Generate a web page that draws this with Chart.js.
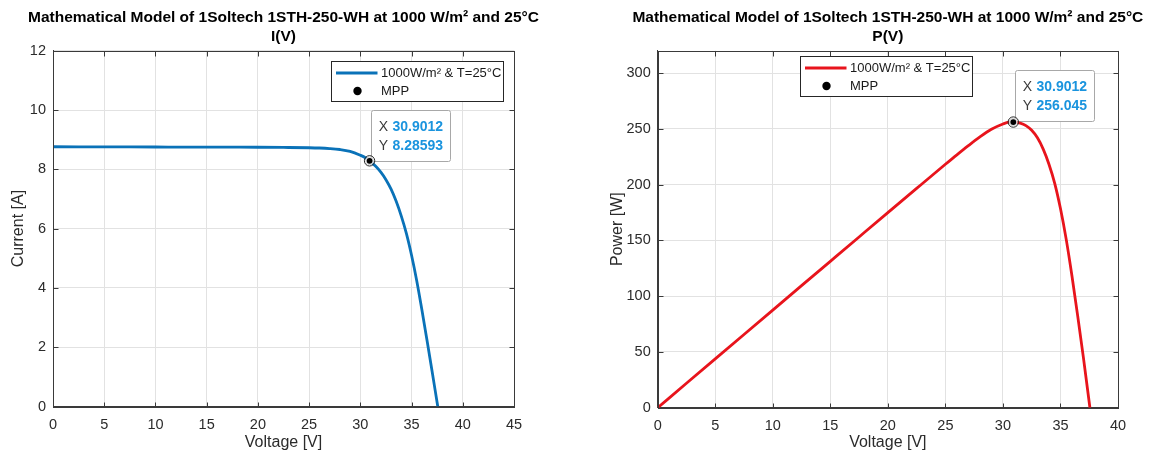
<!DOCTYPE html>
<html>
<head>
<meta charset="utf-8">
<script src="https://cdn.jsdelivr.net/npm/chart.js@4.4.1/dist/chart.umd.min.js"></script>
<style>
  html, body { margin: 0; padding: 0; background: #ffffff; }
  .panel { position: absolute; top: 0; width: 576px; height: 455px; }
  #panelIV { left: 0; }
  #panelPV { left: 576px; }
</style>
</head>
<body>
<div class="panel" id="panelIV"><canvas id="chartIV" width="576" height="455"></canvas></div>
<div class="panel" id="panelPV"><canvas id="chartPV" width="576" height="455"></canvas></div>
<script>
// Module characteristic at 1000 W/m² and 25 °C
const voltage = [0, 2.5, 5, 7.5, 10, 12.5, 15, 17.5, 20, 22.5, 25, 26, 27, 28, 29, 30, 30.5, 30.9012,
  31.5, 32, 32.5, 33, 33.5, 34, 34.5, 35, 35.5, 36, 36.5, 37, 37.5, 37.56];
const current = [8.760, 8.758, 8.756, 8.754, 8.752, 8.750, 8.748, 8.746, 8.743, 8.737, 8.727, 8.718, 8.700,
  8.668, 8.605, 8.475, 8.390, 8.28593, 8.100, 7.903, 7.650, 7.330, 6.920, 6.420, 5.830, 5.100, 4.250,
  3.280, 2.250, 1.200, 0.125, 0];
const power = [0, 21.895, 43.78, 65.655, 87.52, 109.375, 131.22, 153.055, 174.86, 196.583, 218.175,
  226.668, 234.9, 242.704, 249.545, 254.25, 255.895, 256.045, 255.15, 252.896, 248.625, 241.89, 231.82,
  218.28, 201.135, 178.5, 150.875, 118.08, 82.125, 44.4, 4.6875, 0];

// Maximum power point
const mppVoltage = 30.9012;
const mppCurrent = 8.28593;
const mppPower = 256.045;

// Axis ticks
const ivXTicks = [0, 5, 10, 15, 20, 25, 30, 35, 40, 45];
const ivYTicks = [0, 2, 4, 6, 8, 10, 12];
const pvXTicks = [0, 5, 10, 15, 20, 25, 30, 35, 40];
const pvYTicks = [0, 50, 100, 150, 200, 250, 300];

// Texts
const mainTitle = 'Mathematical Model of 1Soltech 1STH-250-WH at 1000 W/m\u00B2 and 25\u00B0C';
const seriesLabel = '1000W/m\u00B2 & T=25\u00B0C';
const mppLabel = 'MPP';

const FONT = "'Liberation Sans', Arial, Helvetica, sans-serif";
const AXIS_TEXT = '#2b2b2b';
const GRID = '#e2e2e2';
const FRAME = '#3a3a3a';
const TIP_VALUE = '#1a94de';

// Titles, box, inward ticks, legend and data tip around the plot area
const panelDecor = {
  id: 'panelDecor',
  beforeDatasetsDraw(chart, args, opts) {
    // data tip box sits under the marker
    const { ctx, scales: { x, y } } = chart;
    const mpp = chart.data.datasets[0].data[0];
    const px = x.getPixelForValue(mpp.x), py = y.getPixelForValue(mpp.y);
    const lines = [['X', String(mpp.x)], ['Y', String(mpp.y)]];
    ctx.save();
    ctx.font = 'bold 14px ' + FONT;
    const vw = Math.max(...lines.map(l => ctx.measureText(l[1]).width));
    const bw = Math.round(21 + vw + 7.5), bh = 51;
    const bx = Math.round(px + 1.5) + 0.5, by = Math.round(py - bh + opts.tipDy) + 0.5;
    ctx.fillStyle = '#ffffff';
    ctx.strokeStyle = '#a8a8a8';
    ctx.lineWidth = 1;
    ctx.beginPath();
    if (ctx.roundRect) ctx.roundRect(bx, by, bw, bh, 2); else ctx.rect(bx, by, bw, bh);
    ctx.fill();
    ctx.stroke();
    ctx.textBaseline = 'middle';
    lines.forEach((l, i) => {
      const ty = by + 16.7 + i * 18.5;
      ctx.font = '14px ' + FONT;
      ctx.fillStyle = '#3a3a3a';
      ctx.fillText(l[0], bx + 7.2, ty);
      ctx.font = 'bold 14px ' + FONT;
      ctx.fillStyle = TIP_VALUE;
      ctx.fillText(l[1], bx + 21, ty);
    });
    ctx.restore();
  },
  afterDatasetsDraw(chart) {
    // outline ring around the highlighted point
    const { ctx, scales: { x, y } } = chart;
    const mpp = chart.data.datasets[0].data[0];
    const px = x.getPixelForValue(mpp.x), py = y.getPixelForValue(mpp.y);
    ctx.save();
    ctx.strokeStyle = '#2a2a2a';
    ctx.lineWidth = 1;
    ctx.beginPath();
    ctx.arc(px, py, 5.2, 0, Math.PI * 2);
    ctx.stroke();
    ctx.restore();
  },
  afterDraw(chart, args, opts) {
    const { ctx, chartArea: a, scales: { x, y } } = chart;
    const L = Math.round(a.left) + 0.5, R = Math.round(a.right) + 0.5;
    const T = Math.round(a.top) + 0.5, B = Math.round(a.bottom) + 0.5;
    ctx.save();

    // two-line heading centred over the plot area
    const cx = (a.left + a.right) / 2;
    ctx.fillStyle = '#000000';
    ctx.font = 'bold 15.5px ' + FONT;
    ctx.textAlign = 'center';
    ctx.textBaseline = 'middle';
    opts.heading.forEach((t, i) => ctx.fillText(t, cx, 17.5 + i * 19.5));
    ctx.textAlign = 'left';

    ctx.strokeStyle = FRAME;
    ctx.lineWidth = 1;
    ctx.beginPath();
    x.ticks.forEach(t => {
      const p = Math.round(x.getPixelForValue(t.value)) + 0.5;
      ctx.moveTo(p, B); ctx.lineTo(p, B - 5);
      ctx.moveTo(p, T); ctx.lineTo(p, T + 5);
    });
    y.ticks.forEach(t => {
      const p = Math.round(y.getPixelForValue(t.value)) + 0.5;
      ctx.moveTo(L, p); ctx.lineTo(L + 5, p);
      ctx.moveTo(R, p); ctx.lineTo(R - 5, p);
    });
    ctx.stroke();
    ctx.strokeRect(L, T, R - L, B - T);

    // legend
    const line = chart.data.datasets[1];
    const mpp = chart.data.datasets[0];
    const lx = Math.round(a.left + opts.legendDx) + 0.5, ly = Math.round(a.top + opts.legendDy) + 0.5;
    const lw = 172, lh = 40;
    ctx.fillStyle = '#ffffff';
    ctx.fillRect(lx, ly, lw, lh);
    ctx.strokeStyle = '#262626';
    ctx.lineWidth = 1;
    ctx.strokeRect(lx, ly, lw, lh);
    ctx.strokeStyle = line.borderColor;
    ctx.lineWidth = line.borderWidth;
    ctx.beginPath();
    ctx.moveTo(lx + 4.5, ly + 11.5);
    ctx.lineTo(lx + 46, ly + 11.5);
    ctx.stroke();
    ctx.fillStyle = mpp.backgroundColor;
    ctx.beginPath();
    ctx.arc(lx + 26, ly + 29.5, 4.2, 0, Math.PI * 2);
    ctx.fill();
    ctx.font = '13px ' + FONT;
    ctx.fillStyle = '#1a1a1a';
    ctx.textBaseline = 'middle';
    ctx.fillText(line.label, lx + 49.5, ly + 11.5);
    ctx.fillText(mpp.label, lx + 49.5, ly + 29.5);
    ctx.restore();
  }
};

function makePanel(canvasId, cfg) {
  const points = voltage.map((v, i) => ({ x: v, y: cfg.values[i] }));
  return new Chart(document.getElementById(canvasId), {
    type: 'line',
    data: {
      datasets: [
        {
          label: mppLabel,
          data: [{ x: mppVoltage, y: cfg.mppValue }],
          showLine: false,
          pointRadius: 3.6,
          pointBackgroundColor: '#000000',
          backgroundColor: '#000000',
          pointBorderColor: '#dcdcdc',
          pointBorderWidth: 1.4,
          order: 0
        },
        {
          label: seriesLabel,
          data: points,
          borderColor: cfg.color,
          borderWidth: 2.8,
          pointRadius: 0,
          cubicInterpolationMode: 'monotone',
          fill: false,
          order: 1
        }
      ]
    },
    options: {
      responsive: false,
      animation: false,
      devicePixelRatio: 1,
      layout: { padding: { left: 0, right: cfg.padRight, top: 50.7, bottom: 0 } },
      plugins: {
        legend: { display: false },
        tooltip: { enabled: false },
        title: { display: false },
        panelDecor: {
          heading: [mainTitle, cfg.subtitle],
          legendDx: cfg.legendDx, legendDy: cfg.legendDy, tipDy: cfg.tipDy
        }
      },
      scales: {
        x: {
          type: 'linear',
          min: cfg.xTicks[0],
          max: cfg.xTicks[cfg.xTicks.length - 1],
          afterBuildTicks: s => { s.ticks = cfg.xTicks.map(v => ({ value: v })); },
          afterFit: s => { s.height = cfg.xAxisHeight; },
          ticks: { padding: 10, color: AXIS_TEXT, font: { family: FONT, size: 14.5 }, maxRotation: 0, autoSkip: false },
          grid: { color: GRID, lineWidth: 1, drawTicks: false },
          border: { display: true, color: FRAME, width: 1 },
          title: { display: true, text: 'Voltage [V]', color: AXIS_TEXT,
                   font: { family: FONT, size: 16, lineHeight: 1.2 }, padding: { top: 0, bottom: 2.5 } }
        },
        y: {
          type: 'linear',
          min: 0,
          max: cfg.yMax,
          afterBuildTicks: s => { s.ticks = cfg.yTicks.map(v => ({ value: v })); },
          afterFit: s => { s.width = cfg.yAxisWidth; },
          ticks: { padding: 7, color: AXIS_TEXT, font: { family: FONT, size: 14.5 }, autoSkip: false },
          grid: { color: GRID, lineWidth: 1, drawTicks: false },
          border: { display: true, color: FRAME, width: 1 },
          title: { display: true, text: cfg.yTitle, color: AXIS_TEXT,
                   font: { family: FONT, size: 16, lineHeight: 1.2 }, padding: { top: cfg.yTitlePad, bottom: 0 } }
        }
      }
    },
    plugins: [panelDecor]
  });
}

makePanel('chartIV', {
  values: current, mppValue: mppCurrent, color: '#0a72b8', subtitle: 'I(V)',
  xTicks: ivXTicks, yTicks: ivYTicks, yMax: 12, yTitle: 'Current [A]',
  padRight: 62, yAxisWidth: 53, xAxisHeight: 48.5, yTitlePad: 9,
  legendDx: 277.5, legendDy: 10.5, tipDy: 0
});

makePanel('chartPV', {
  values: power, mppValue: mppPower, color: '#e8141c', subtitle: 'P(V)',
  xTicks: pvXTicks, yTicks: pvYTicks, yMax: 320, yTitle: 'Power [W]',
  padRight: 34, yAxisWidth: 81.7, xAxisHeight: 47.3, yTitlePad: 32,
  legendDx: 142, legendDy: 5.5, tipDy: -1.5
});
</script>
</body>
</html>
